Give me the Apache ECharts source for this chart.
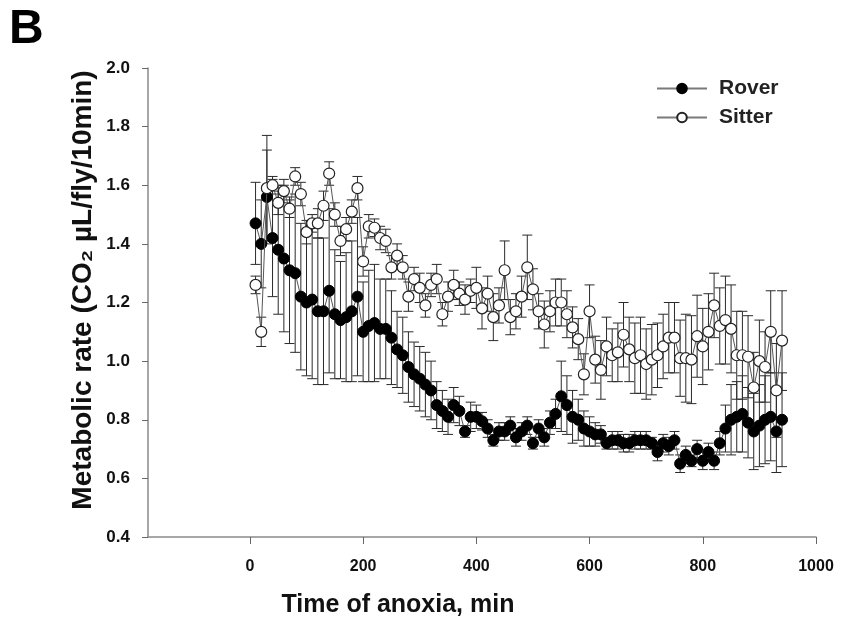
<!DOCTYPE html>
<html>
<head>
<meta charset="utf-8">
<script src="https://cdn.jsdelivr.net/npm/echarts@6/dist/echarts.min.js"></script>
<style>
html,body{margin:0;padding:0;background:#fff;}
#chart{width:844px;height:631px;}
</style>
</head>
<body>
<div id="chart"></div>
<script>
var times = [10,20,30,40,50,60,70,80,90,100,110,120,130,140,150,160,170,180,190,200,
  210,220,230,240,250,260,270,280,290,300,310,320,330,340,350,360,370,380,390,400,
  410,420,430,440,450,460,470,480,490,500,510,520,530,540,550,560,570,580,590,600,
  610,620,630,640,650,660,670,680,690,700,710,720,730,740,750,760,770,780,790,800,
  810,820,830,840,850,860,870,880,890,900,910,920,930,940];

var roverMean = [1.47,1.40,1.56,1.42,1.38,1.35,1.31,1.30,1.22,1.20,
  1.21,1.17,1.17,1.24,1.16,1.14,1.15,1.17,1.22,1.10,
  1.12,1.13,1.11,1.11,1.08,1.04,1.02,0.98,0.955,0.94,
  0.92,0.90,0.85,0.83,0.81,0.85,0.83,0.76,0.81,0.81,
  0.795,0.77,0.73,0.76,0.76,0.78,0.74,0.76,0.78,0.72,
  0.77,0.74,0.79,0.82,0.88,0.85,0.81,0.80,0.77,0.76,
  0.75,0.75,0.72,0.73,0.73,0.72,0.72,0.73,0.73,0.73,
  0.72,0.69,0.72,0.71,0.73,0.65,0.68,0.66,0.70,0.66,
  0.69,0.66,0.72,0.77,0.80,0.81,0.82,0.79,0.76,0.78,
  0.80,0.81,0.76,0.80];

var roverSem = [0.14,0.15,0.16,0.20,0.22,0.25,0.25,0.27,0.25,0.25,
  0.27,0.25,0.25,0.28,0.22,0.20,0.22,0.24,0.27,0.17,
  0.19,0.20,0.17,0.17,0.16,0.13,0.13,0.12,0.11,0.11,
  0.11,0.10,0.08,0.07,0.06,0.06,0.05,0.02,0.05,0.04,
  0.03,0.03,0.02,0.03,0.03,0.03,0.03,0.03,0.03,0.02,
  0.03,0.03,0.04,0.05,0.12,0.10,0.09,0.07,0.06,0.05,
  0.04,0.03,0.02,0.03,0.03,0.03,0.03,0.03,0.03,0.03,
  0.02,0.03,0.03,0.03,0.03,0.03,0.03,0.02,0.03,0.03,
  0.03,0.03,0.04,0.08,0.12,0.12,0.13,0.12,0.13,0.14,
  0.15,0.15,0.14,0.16];

var sitterMean = [1.26,1.10,1.59,1.60,1.54,1.58,1.52,1.63,1.57,1.44,
  1.47,1.47,1.53,1.64,1.50,1.41,1.45,1.51,1.59,1.34,
  1.46,1.455,1.42,1.41,1.32,1.36,1.32,1.22,1.28,1.25,
  1.19,1.26,1.28,1.16,1.22,1.26,1.23,1.21,1.24,1.25,
  1.18,1.23,1.15,1.19,1.31,1.15,1.17,1.22,1.32,1.245,
  1.17,1.125,1.17,1.20,1.20,1.16,1.115,1.075,0.955,1.17,
  1.005,0.97,1.05,1.02,1.03,1.09,1.04,1.01,1.02,0.99,
  1.005,1.02,1.05,1.08,1.08,1.01,1.01,1.005,1.085,1.05,
  1.10,1.19,1.12,1.14,1.11,1.02,1.02,1.015,0.91,1.00,
  0.98,1.10,0.90,1.07];

var sitterSem = [0.03,0.05,0.18,0.03,0.04,0.04,0.03,0.03,0.04,0.04,
  0.03,0.05,0.05,0.04,0.04,0.05,0.04,0.04,0.04,0.05,
  0.04,0.03,0.04,0.04,0.04,0.04,0.04,0.05,0.04,0.05,
  0.04,0.04,0.05,0.04,0.05,0.05,0.04,0.05,0.04,0.07,
  0.07,0.06,0.08,0.06,0.10,0.06,0.06,0.07,0.11,0.07,
  0.06,0.08,0.07,0.08,0.08,0.08,0.07,0.07,0.07,0.09,
  0.08,0.10,0.10,0.09,0.10,0.11,0.11,0.12,0.13,0.12,
  0.12,0.11,0.11,0.12,0.12,0.13,0.15,0.15,0.14,0.13,
  0.13,0.11,0.13,0.15,0.15,0.15,0.15,0.14,0.12,0.14,
  0.12,0.14,0.16,0.17];

var xTicks = [0,200,400,600,800,1000];

function pairs(xs, ys){ var out=[]; for(var i=0;i<xs.length;i++){ out.push([xs[i], ys[i]]); } return out; }
function errData(xs, ys, es){ var out=[]; for(var i=0;i<xs.length;i++){ out.push([xs[i], ys[i]-es[i], ys[i]+es[i]]); } return out; }

function renderErr(params, api){
  var x = api.value(0), lo = api.value(1), hi = api.value(2);
  var pHi = api.coord([x, hi]), pLo = api.coord([x, lo]);
  var hw = 5;
  var st = {stroke:'#2a2a2a', lineWidth:1};
  return {type:'group', children:[
    {type:'line', shape:{x1:pHi[0], y1:pHi[1], x2:pLo[0], y2:pLo[1]}, style:st},
    {type:'line', shape:{x1:pHi[0]-hw, y1:pHi[1], x2:pHi[0]+hw, y2:pHi[1]}, style:st},
    {type:'line', shape:{x1:pLo[0]-hw, y1:pLo[1], x2:pLo[0]+hw, y2:pLo[1]}, style:st}
  ]};
}

var font = '"Liberation Sans", Arial, sans-serif';
var chart = echarts.init(document.getElementById('chart'), null, {renderer:'canvas'});
chart.setOption({
  animation:false,
  backgroundColor:'#ffffff',
  grid:{left:148, right:28, top:68, bottom:94, containLabel:false},
  legend:{
    left:656, top:78, orient:'vertical', itemWidth:50, itemHeight:12, itemGap:8, padding:0,
    data:['Rover','Sitter'],
    lineStyle:{color:'#7a7a7a', width:2},
    textStyle:{fontFamily:font, fontWeight:'bold', fontSize:21, color:'#222', padding:[0,0,0,7]}
  },
  graphic:[
    {type:'text', x:9, y:30, style:{text:'B', fontFamily:font, fontWeight:'bold', fontSize:48, fill:'#000', textAlign:'left', textVerticalAlign:'middle'}},
    {type:'text', x:398, y:605, style:{text:'Time of anoxia, min', fontFamily:font, fontWeight:'bold', fontSize:25, fill:'#111', textAlign:'center', textVerticalAlign:'middle'}},
    {type:'text', x:83, y:290, rotation:Math.PI/2, style:{text:'Metabolic rate (CO\u2082 \u00b5L/fly/10min)', fontFamily:font, fontWeight:'bold', fontSize:28, fill:'#111', textAlign:'center', textVerticalAlign:'middle'}}
  ],
  xAxis:{
    type:'value', min:-180, max:1000,
    axisLine:{show:true, onZero:false, lineStyle:{color:'#8a8a8a', width:1.5}},
    axisTick:{show:true, length:7, customValues:xTicks, lineStyle:{color:'#666', width:1}},
    axisLabel:{customValues:xTicks, fontFamily:font, fontWeight:'bold', fontSize:16, color:'#111', margin:22,
      formatter:function(v){ return String(v); }},
    splitLine:{show:false}
  },
  yAxis:{
    type:'value', min:0.4, max:2.0, interval:0.2,
    axisLine:{show:true, onZero:false, lineStyle:{color:'#8a8a8a', width:1.5}},
    axisTick:{show:true, length:6, lineStyle:{color:'#666', width:1}},
    axisLabel:{fontFamily:font, fontWeight:'bold', fontSize:17, color:'#111', margin:18,
      formatter:function(v){ return v.toFixed(1); }},
    splitLine:{show:false}
  },
  series:[
    {type:'custom', name:'roverErr', renderItem:renderErr, data:errData(times, roverMean, roverSem), z:1, silent:true, encode:{x:0, y:[1,2]}},
    {type:'custom', name:'sitterErr', renderItem:renderErr, data:errData(times, sitterMean, sitterSem), z:1, silent:true, encode:{x:0, y:[1,2]}},
    {type:'line', name:'Rover', data:pairs(times, roverMean), symbol:'circle', symbolSize:11, showAllSymbol:true,
      lineStyle:{color:'#555', width:1}, itemStyle:{color:'#000', borderColor:'#000', borderWidth:1}, z:3},
    {type:'line', name:'Sitter', data:pairs(times, sitterMean), symbol:'circle', symbolSize:11, showAllSymbol:true,
      lineStyle:{color:'#555', width:1}, itemStyle:{color:'#fff', borderColor:'#222', borderWidth:1.2}, z:4}
  ]
});
</script>
</body>
</html>
